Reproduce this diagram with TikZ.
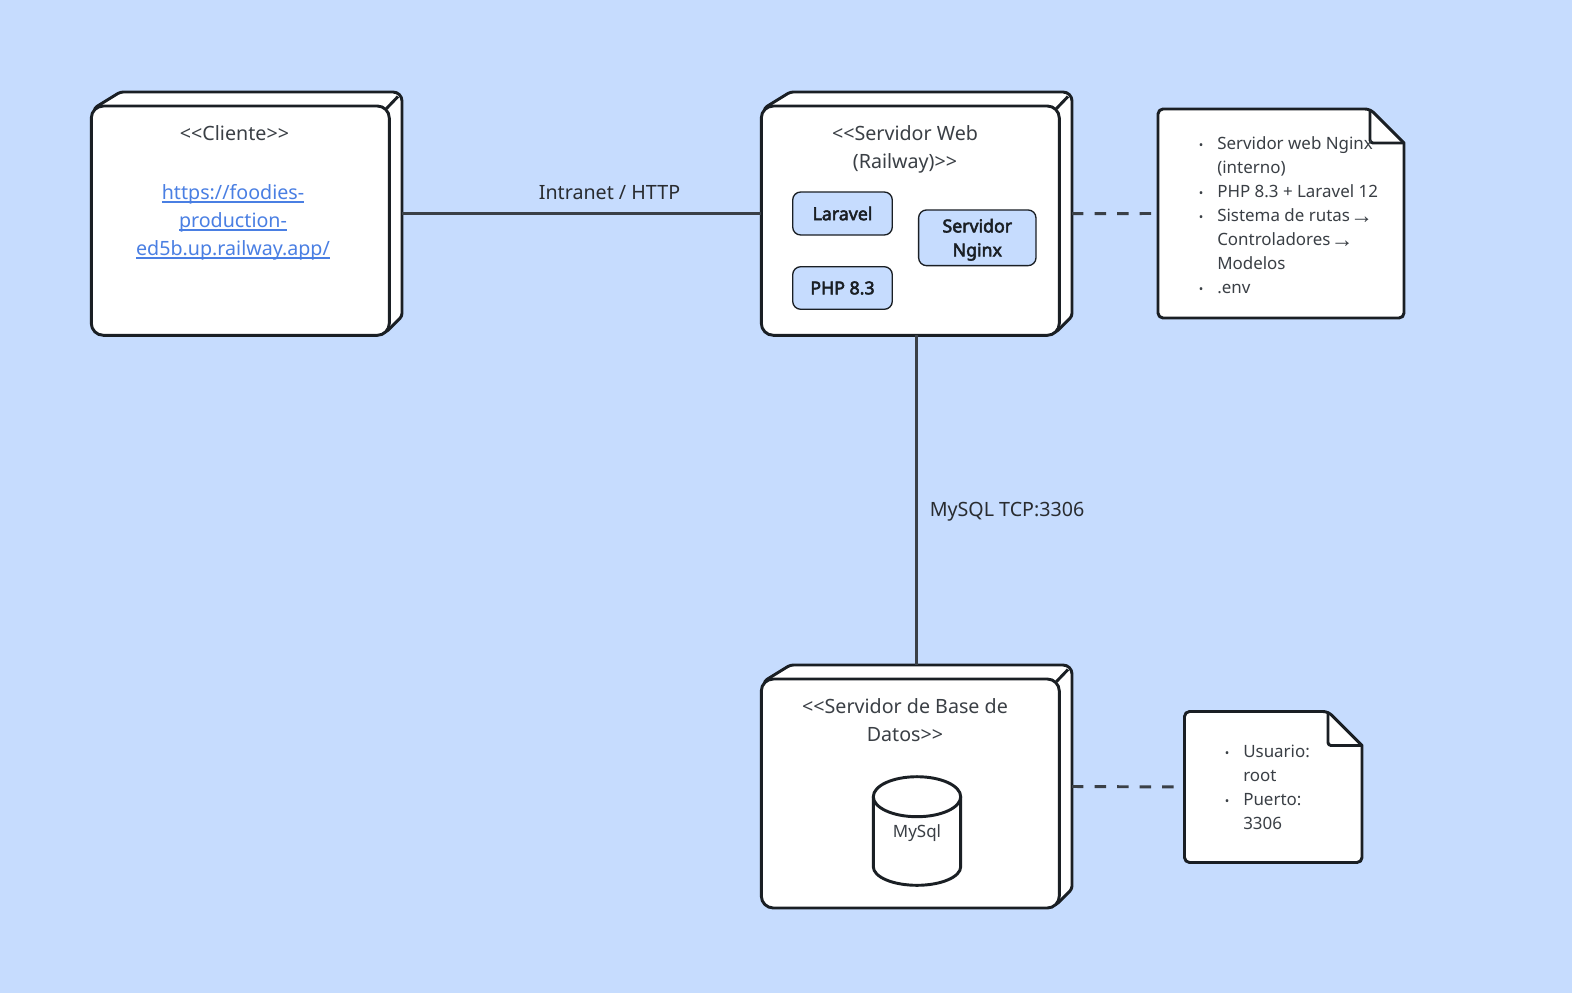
\documentclass[tikz,border=0pt]{standalone}
\usepackage{fontspec}
\setmainfont{Noto Sans}
\newfontfamily\arrowfont{Liberation Sans}
\newfontfamily\partfont[FakeBold=3]{Noto Sans}
\usetikzlibrary{fit,calc}
\definecolor{bgblue}{HTML}{C6DCFE}
\definecolor{inkdark}{HTML}{1A1F24}
\definecolor{wire}{HTML}{3A4047}
\definecolor{txt}{HTML}{3A3F45}
\definecolor{linkblue}{HTML}{4A7FE3}
\newcommand{\bigfont}{\fontsize{14.75}{21}\selectfont}
\newcommand{\notefont}{\fontsize{12.7}{18}\selectfont}
\newcommand{\boldnote}{\partfont\fontsize{13.3}{18}\selectfont}
\newcommand{\arr}{\hspace{-3pt}\smash{\raisebox{-1.2pt}{\arrowfont\fontsize{17}{18}\selectfont →}}}
\newcommand{\bul}{\llap{\raisebox{0pt}{\fontsize{9}{9}\selectfont •}\hspace{10.5pt}}}
\newlength{\lnkw}
\newcommand{\lnk}[1]{\settowidth{\lnkw}{#1}\rlap{\rule[-2.4pt]{\lnkw}{0.9pt}}#1}
\tikzset{
  outline/.style={draw=inkdark,line width=2.2pt,line join=round},
  frontface/.style={outline,fill=white,rounded corners=12*0.75pt},
  sidebox/.style={outline,fill=white,rounded corners=3*0.75pt},
  wireline/.style={draw=wire,line width=2.6pt},
  dashline/.style={draw=wire,line width=2.2pt,dash pattern=on 8.6pt off 8.3pt},
  hull/.style={inner sep=0pt,outer sep=0pt},
  title/.style={font=\bigfont,text=txt,align=center,inner sep=0pt},
  label/.style={font=\bigfont,text=txt!70!black,inner sep=0pt},
  part/.style={draw=inkdark,line width=1pt,fill=bgblue,rounded corners=8*0.75pt,
    font=\boldnote,text=inkdark,align=center,inner sep=0pt},
  notetext/.style={font=\notefont,text=txt,align=left,inner sep=0pt,anchor=west},
}
% #1 name, #2 x1, #3 y1, #4 x2, #5 y2
\newcommand{\deployment}[5]{%
  \path[sidebox] (#2+3,#3+16) -- (#2+29,#3) [rounded corners=9*0.75pt] -- (#4,#3) [rounded corners=3*0.75pt] -- (#4,#5-19) -- (#4-16,#5-3) -- (#2+20,#5-3) -- cycle;
  \draw[outline] (#4-15.5,#3+16.5) -- (#4-4,#3+4.5);
  \draw[frontface] (#2,#3+14) rectangle (#4-12.7,#5);
  \node[hull,fit={(#2,#3)(#4,#5)}] (#1) {};
}
% #1 name, #2 x1, #3 y1, #4 x2, #5 y2, #6 fold size x, #7 fold size y
\newcommand{\notesheet}[7]{%
  \begin{scope}[rounded corners=5*0.75pt]
  \path[outline,fill=white] (#2,#3) -- (#4-#6,#3) [sharp corners] -- (#4,#3+#7) [rounded corners=5*0.75pt] -- (#4,#5) -- (#2,#5) -- cycle;
  \draw[outline] (#4-#6,#3) [rounded corners=3*0.75pt] -- (#4-#6,#3+#7) [sharp corners] -- (#4,#3+#7);
  \end{scope}
  \node[hull,fit={(#2,#3)(#4,#5)}] (#1) {};
}
\begin{document}
\begin{tikzpicture}[x=0.75pt,y=-0.75pt]
\fill[bgblue] (0,0) rectangle (1572,993);
\useasboundingbox (0,0) rectangle (1572,993);

\deployment{cliente}{91.3}{92}{402}{335.3}
\deployment{web}{761.3}{92}{1072}{335.3}
\deployment{db}{761.3}{665}{1072}{908}
\notesheet{notaweb}{1158}{109}{1404}{318}{34}{34}
\notesheet{notadb}{1184.5}{711.5}{1362}{862.5}{34}{34}

% connectors
\draw[wireline] (cliente.east) -- (web.west);
\draw[wireline] (web.south) -- (db.north);
\draw[dashline] (web.east) -- (notaweb.west);
\draw[dashline] (db.east) -- (notadb.west);

% connector labels
\node[label] (lblhttp) at (609.5,192.5) {Intranet / HTTP};
\node[label,anchor=west] (lblsql) at (929.5,511.3) {MySQL TCP:3306};

% Cliente
\node[title] (tcliente) at (234.5,133) {<{}<Cliente>{}>};
\node[title,text=linkblue] (tlink) at (233,222.3) {\lnk{https://foodies-}\\\lnk{production-}\\\lnk{ed5b.up.railway.app/}};

% Web
\node[title] (tweb) at (905,149) {<{}<Servidor Web\\(Railway)>{}>};
\node[part,minimum width=99.6*0.75pt,minimum height=43*0.75pt] (laravel) at (842.5,213.5) {Laravel};
\node[part,minimum width=99.6*0.75pt,minimum height=42.6*0.75pt] (php) at (842.5,288) {PHP 8.3};
\node[part,minimum width=117.4*0.75pt,minimum height=55.7*0.75pt] (nginx) at (977.3,237.8) {\rule{0pt}{13pt}Servidor\\Nginx};

% Notes
\node[notetext] (nweb) at (1217,215.2) {\notefont\bul Servidor web Nginx\\(interno)\\\bul PHP 8.3 + Laravel 12\\\bul Sistema de rutas \arr\\Controladores \arr\\Modelos\\\bul .env};
\node[notetext] (ndb) at (1243,787.5) {\notefont\bul Usuario:\\root\\\bul Puerto:\\3306};

% DB
\node[title] (tdb) at (905,720.3) {<{}<Servidor de Base de\\Datos>{}>};
\draw[outline,fill=white] (873.3,796.7) -- (960.7,796.7) -- (960.7,866.7) arc[start angle=0,end angle=180,x radius=43.7,y radius=18.6] -- cycle;
\draw[outline,fill=white] (917,796.7) ellipse[x radius=43.7,y radius=20];
\node[font=\notefont,text=txt,inner sep=0pt] (tmysql) at (917,833) {MySql};
\end{tikzpicture}
\end{document}
